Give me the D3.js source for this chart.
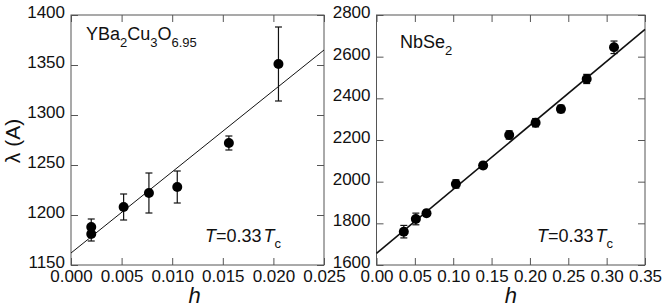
<!DOCTYPE html>
<html>
<head>
<meta charset="utf-8">
<script src="https://cdn.jsdelivr.net/npm/d3@7"></script>
<style>
  body { margin: 0; background: #fff; }
  text { font-family: "Liberation Sans", Arial, sans-serif; fill: #111; }
</style>
</head>
<body>
<svg id="vis" width="664" height="307"></svg>
<script>
// YBa2Cu3O6.95 panel
let ybcoH   = [0.0020, 0.0020, 0.0052, 0.0077, 0.0105, 0.0156, 0.0205];
let ybcoLam = [1188, 1181, 1208, 1222, 1228, 1272, 1351];
let ybcoErr = [8, 7, 13, 20, 16, 7, 37];
let ybcoFit = [[0, 1162], [0.025, 1365]];

// NbSe2 panel
let nbseH   = [0.0356, 0.0513, 0.0652, 0.1035, 0.139, 0.173, 0.2074, 0.2404, 0.274, 0.3096];
let nbseLam = [1760, 1821, 1848, 1989, 2078, 2224, 2283, 2349, 2493, 2645];
let nbseErr = [30, 28, 15, 20, 15, 20, 20, 18, 22, 30];
let nbseFit = [[0, 1656], [0.35, 2731]];

let ybcoXTicks = [0, 0.005, 0.01, 0.015, 0.02, 0.025];
let ybcoYTicks = [1150, 1200, 1250, 1300, 1350, 1400];
let nbseXTicks = [0, 0.05, 0.1, 0.15, 0.2, 0.25, 0.3, 0.35];
let nbseYTicks = [1600, 1800, 2000, 2200, 2400, 2600, 2800];

let svg = d3.select("#vis");

function drawPanel(opts) {
  let x = d3.scaleLinear().domain(opts.xDomain).range([opts.left, opts.right]);
  let y = d3.scaleLinear().domain(opts.yDomain).range([opts.bottom, opts.top]);
  let w = opts.right - opts.left;
  let h = opts.bottom - opts.top;
  let g = svg.append("g");

  // inward ticks on all four sides
  let axes = [
    {ax: d3.axisBottom(x).tickValues(opts.xTicks).tickFormat(d3.format(opts.xFmt)), tr: "translate(0," + opts.bottom + ")"},
    {ax: d3.axisTop(x).tickValues(opts.xTicks).tickFormat(""), tr: "translate(0," + opts.top + ")"},
    {ax: d3.axisLeft(y).tickValues(opts.yTicks).tickFormat(d3.format("d")), tr: "translate(" + opts.left + ",0)"},
    {ax: d3.axisRight(y).tickValues(opts.yTicks).tickFormat(""), tr: "translate(" + opts.right + ",0)"}
  ];
  axes.forEach(function(a, i) {
    let ag = g.append("g")
      .attr("transform", a.tr)
      .call(a.ax.tickSizeInner(-7).tickSizeOuter(0).tickPadding(i === 0 ? 5 : 4));
    ag.select(".domain").remove();
    ag.selectAll("line").attr("stroke", "#555");
    ag.selectAll("text")
      .style("font-family", "'Liberation Sans', Arial, sans-serif")
      .style("font-size", "17px")
      .attr("fill", "#111");
    if (i === 2) ag.selectAll("text").attr("x", -6).attr("dy", "0.15em");
  });

  g.append("rect")
    .attr("x", opts.left).attr("y", opts.top)
    .attr("width", w).attr("height", h)
    .attr("fill", "none").attr("stroke", "#555").attr("stroke-width", 1);

  // fit line
  let line = d3.line()
    .x(function(d) { return x(d[0]); })
    .y(function(d) { return y(d[1]); });
  g.append("path")
    .attr("d", line(opts.fit))
    .attr("stroke", "#111")
    .attr("stroke-width", opts.lineW)
    .attr("fill", "none");

  // error bars
  let pts = opts.hs.map(function(v, i) { return {h: v, l: opts.lam[i], e: opts.err[i]}; });
  let eb = g.selectAll(".eb").data(pts).enter().append("g");
  eb.append("line")
    .attr("x1", function(d) { return x(d.h); })
    .attr("x2", function(d) { return x(d.h); })
    .attr("y1", function(d) { return y(d.l - d.e); })
    .attr("y2", function(d) { return y(d.l + d.e); })
    .attr("stroke", "#111").attr("stroke-width", 1.2);
  [-1, 1].forEach(function(s) {
    eb.append("line")
      .attr("x1", function(d) { return x(d.h) - 3.5; })
      .attr("x2", function(d) { return x(d.h) + 3.5; })
      .attr("y1", function(d) { return y(d.l + s * d.e); })
      .attr("y2", function(d) { return y(d.l + s * d.e); })
      .attr("stroke", "#111").attr("stroke-width", 1.2);
  });
  g.selectAll(".pt").data(pts).enter().append("circle")
    .attr("cx", function(d) { return x(d.h); })
    .attr("cy", function(d) { return y(d.l); })
    .attr("r", 5)
    .attr("fill", "#000");

  // x axis title
  g.append("text")
    .attr("x", (opts.left + opts.right) / 2 + opts.hShift)
    .attr("y", 303)
    .attr("text-anchor", "middle")
    .style("font-size", "22px")
    .style("font-style", "italic")
    .text("h");

  // T = 0.33 Tc
  let t = g.append("text")
    .attr("x", opts.tx)
    .attr("y", 242)
    .style("font-size", "18px");
  t.append("tspan").style("font-style", "italic").text("T");
  t.append("tspan").text("=0.33");
  t.append("tspan").style("font-style", "italic").attr("dx", 2).text("T");
  t.append("tspan").attr("dy", 6).style("font-size", "13px").text("c");

  return g;
}

let left = drawPanel({
  left: 71, right: 324, top: 15, bottom: 265,
  xDomain: [0, 0.025], yDomain: [1150, 1400],
  xTicks: ybcoXTicks, yTicks: ybcoYTicks, xFmt: ".3f",
  hs: ybcoH, lam: ybcoLam, err: ybcoErr, fit: ybcoFit,
  lineW: 1, tx: 205, hShift: -3
});

let right = drawPanel({
  left: 376.5, right: 645, top: 15, bottom: 265,
  xDomain: [0, 0.35], yDomain: [1600, 2800],
  xTicks: nbseXTicks, yTicks: nbseYTicks, xFmt: ".2f",
  hs: nbseH, lam: nbseLam, err: nbseErr, fit: nbseFit,
  lineW: 1.6, tx: 537, hShift: 0
});

// compound labels
let lab1 = svg.append("text").attr("x", 86).attr("y", 40).style("font-size", "18px");
lab1.append("tspan").text("YBa");
lab1.append("tspan").attr("dy", 7).style("font-size", "13px").text("2");
lab1.append("tspan").attr("dy", -7).text("Cu");
lab1.append("tspan").attr("dy", 7).style("font-size", "13px").text("3");
lab1.append("tspan").attr("dy", -7).text("O");
lab1.append("tspan").attr("dy", 7).style("font-size", "13px").text("6.95");

let lab2 = svg.append("text").attr("x", 400).attr("y", 48).style("font-size", "18px");
lab2.append("tspan").text("NbSe");
lab2.append("tspan").attr("dy", 7).style("font-size", "13px").text("2");

// y axis title
svg.append("text")
  .attr("transform", "translate(20,141) rotate(-90)")
  .attr("text-anchor", "middle")
  .style("font-size", "21px")
  .text("λ (A)");
</script>
</body>
</html>
